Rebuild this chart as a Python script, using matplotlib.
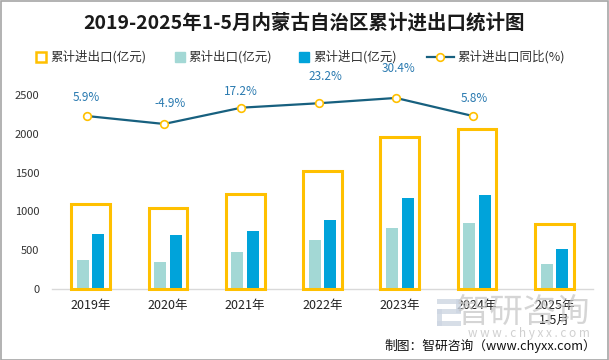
import matplotlib.pyplot as plt
from matplotlib.lines import Line2D
from matplotlib.patches import Rectangle
import numpy as np

plt.rcParams['font.family'] = ['Noto Sans CJK SC', 'DejaVu Sans']

# data
years = ['2019年', '2020年', '2021年', '2022年', '2023年', '2024年', '2025年\n1-5月']
total = [1092, 1047, 1224, 1525, 1963, 2066, 841]
export = [374, 348, 477, 632, 786, 852, 322]
imports = [710, 697, 747, 890, 1175, 1213, 516]
growth = [5.9, -4.9, 17.2, 23.2, 30.4, 5.8]

# label offsets (points) for the growth labels
lab_dy = [13.5, 14.5, 11.5, 19.5, 21.5, 13]
lab_dx = [0, 4, 0, 5, 2, 1]

c_total = '#FFC000'
c_exp = '#A3D8D5'
c_imp = '#00A3DA'
c_line = '#17607F'
c_lab = '#2A7AB0'

fig = plt.figure(figsize=(6.09, 3.6), dpi=100)
ax = fig.add_axes([52 / 609, 71 / 360, 541 / 609, 194 / 360])
x = np.arange(len(years))

ax.bar(x, total, width=0.5, fill=False, edgecolor=c_total, linewidth=2.2, clip_on=False, zorder=3)
ax.bar(x - 0.1, export, width=0.155, color=c_exp, zorder=2)
ax.bar(x + 0.1, imports, width=0.155, color=c_imp, zorder=2)

ax.set_xlim(-0.5, 6.5)
ax.set_ylim(0, 2500)
ax.set_yticks(range(0, 2501, 500))
ax.set_xticks(x)
ax.set_xticklabels(years, linespacing=1.25)
ax.tick_params(axis='y', length=0, pad=9, labelsize=8, labelcolor='#333333')
ax.tick_params(axis='x', length=0, pad=7, labelsize=9, labelcolor='#222222')
for s in ['top', 'right', 'left']:
    ax.spines[s].set_visible(False)
ax.spines['bottom'].set_color('#D9D9D9')
ax.spines['bottom'].set_linewidth(1)

# growth line on a hidden secondary axis
ax2 = ax.twinx()
ax2.set_ylim(-228.8, 34.4)
ax2.axis('off')
xl = x[:len(growth)] - 0.05
ax2.plot(xl, growth, color=c_line, linewidth=1.6, marker='o', markersize=5.5,
         markerfacecolor='white', markeredgecolor=c_total, markeredgewidth=1.2,
         clip_on=False, zorder=4)
for xi, g, dx, dy in zip(xl, growth, lab_dx, lab_dy):
    ax2.annotate(f'{g}%', (xi, g), xytext=(dx, dy), textcoords='offset points',
                 ha='center', va='center', fontsize=8.5, color=c_lab)

# title
fig.text(0.5, 1 - 23 / 360, '2019-2025年1-5月内蒙古自治区累计进出口统计图',
         ha='center', va='center', fontsize=14, fontweight='bold', color='#1a1a1a')

# legend
ly = 1 - 57 / 360
fig.add_artist(Line2D([41 / 609], [ly], marker='s', markersize=6.5, markerfacecolor='white',
                      markeredgecolor=c_total, markeredgewidth=1.8, linestyle='none'))
fig.add_artist(Line2D([180 / 609], [ly], marker='s', markersize=6.5, color=c_exp, linestyle='none'))
fig.add_artist(Line2D([304 / 609], [ly], marker='s', markersize=6.5, color=c_imp, linestyle='none'))
fig.add_artist(Line2D([427 / 609, 454 / 609], [ly, ly], color=c_line, linewidth=1.6))
fig.add_artist(Line2D([440.5 / 609], [ly], marker='o', markersize=5.5, markerfacecolor='white',
                      markeredgecolor=c_total, markeredgewidth=1.2, linestyle='none'))
leg_txt = ['累计进出口(亿元)', '累计出口(亿元)', '累计进口(亿元)', '累计进出口同比(%)']
for tx, t in zip([50, 188, 313, 457], leg_txt):
    fig.text(tx / 609, ly, t, ha='left', va='center', fontsize=9, color='#333333')

# watermark
fig.text(590 / 609, 1 - 312 / 360, '智研咨询', ha='right', va='center', fontsize=24,
         color='#C4C4C4', alpha=0.7)
fig.text(590 / 609, 1 - 333 / 360, 'w w w . c h y x x . c o m', ha='right', va='center',
         fontsize=8.5, color='#C4C4C4', alpha=0.8)
wm = '#CDD6E2'
for (rx, ry, rw, rh) in [(437, 299, 24, 5), (456, 299, 5, 14), (437, 309, 24, 5),
                         (437, 309, 5, 17), (437, 321, 24, 5)]:
    fig.add_artist(Rectangle((rx / 609, 1 - (ry + rh) / 360), rw / 609, rh / 360,
                             facecolor=wm, alpha=0.8, edgecolor='none'))

# source
fig.text(596 / 609, 1 - 346 / 360, '制图：智研咨询（www.chyxx.com）', ha='right', va='center',
         fontsize=9.2, color='#111111')

# outer border
fig.add_artist(Rectangle((0.5 / 609, 0.5 / 360), 1 - 1.5 / 609, 1 - 1.5 / 360, fill=False,
                         edgecolor='#A6A6A6', linewidth=1.2))

fig.savefig('out.png', dpi=100)
